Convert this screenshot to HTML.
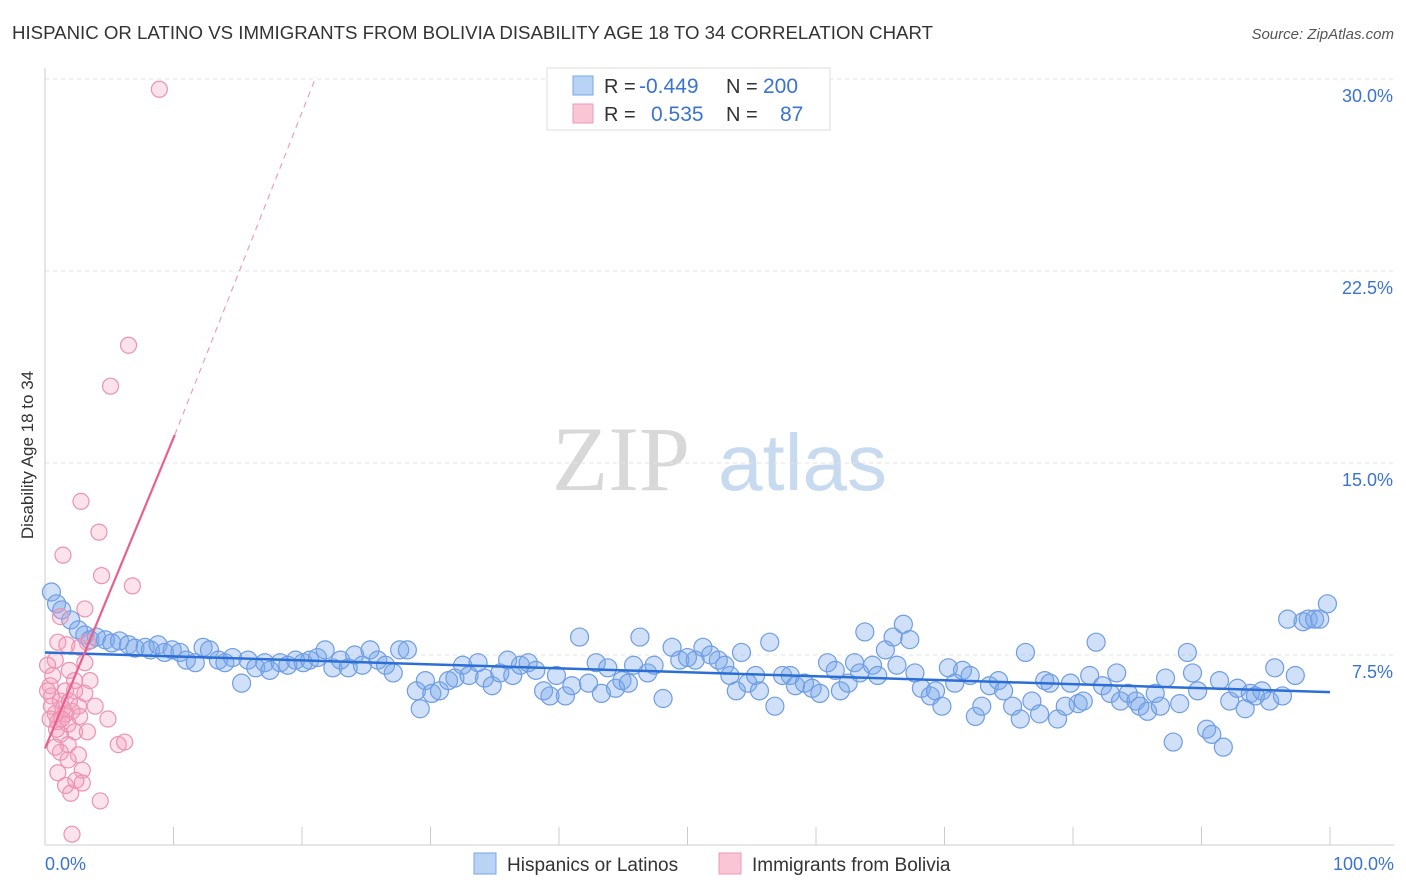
<!DOCTYPE html>
<html><head><meta charset="utf-8"><style>
body{margin:0;background:#fff;font-family:"Liberation Sans",sans-serif;}
#wrap{position:relative;width:1406px;height:892px;overflow:hidden;}
</style></head><body>
<div id="wrap">
<svg id="svg" width="1406" height="892" xmlns="http://www.w3.org/2000/svg">
<text x="12" y="39" font-size="18" fill="#333" textLength="921" lengthAdjust="spacingAndGlyphs">HISPANIC OR LATINO VS IMMIGRANTS FROM BOLIVIA DISABILITY AGE 18 TO 34 CORRELATION CHART</text>
<text x="1394" y="39" font-size="15" fill="#555" font-style="italic" text-anchor="end">Source: ZipAtlas.com</text>
<text x="33" y="455" font-size="17" fill="#333" text-anchor="middle" transform="rotate(-90 33 455)">Disability Age 18 to 34</text>
<g><text x="690" y="490" font-size="92" fill="#d8d8d8" text-anchor="end" font-family="Liberation Serif,serif">ZIP</text><text x="718" y="490" font-size="80" fill="#c8daf0">atlas</text></g>
<g id="grid"></g><g id="pts"></g><g id="trend"></g>
<g>
<rect x="547" y="68" width="283" height="62" fill="#fff" stroke="#ddd"/>
<rect x="573" y="76" width="20" height="19" fill="#b9d3f5" stroke="#7aa6e6"/>
<rect x="573" y="104" width="20" height="19" fill="#f9c6d6" stroke="#ec9ab5"/>
<text x="604" y="93" font-size="20" fill="#333">R = </text><text x="639" y="93" font-size="21" fill="#3a73d0">-0.449</text>
<text x="726" y="93" font-size="20" fill="#333">N =</text><text x="763" y="93" font-size="21" fill="#3a73d0">200</text>
<text x="604" y="121" font-size="20" fill="#333">R = </text><text x="651" y="121" font-size="21" fill="#3a73d0">0.535</text>
<text x="726" y="121" font-size="20" fill="#333">N =</text><text x="780" y="121" font-size="21" fill="#3a73d0">87</text>
</g>
<g>
<rect x="474" y="853" width="22" height="21" fill="#b9d3f5" stroke="#7aa6e6"/>
<text x="507" y="871" font-size="19" fill="#333">Hispanics or Latinos</text>
<rect x="719" y="853" width="22" height="21" fill="#f9c6d6" stroke="#ec9ab5"/>
<text x="752" y="871" font-size="19" fill="#333">Immigrants from Bolivia</text>
</g>
<text x="45" y="870" font-size="18" fill="#3a73d0">0.0%</text>
<text x="1394" y="870" font-size="18" fill="#3a73d0" text-anchor="end">100.0%</text>
</svg>
</div>
<script>
const yTicks=[7.5,15,22.5,30];
const yTickLabels=["7.5%","15.0%","22.5%","30.0%"];
const blueX=[0.5,0.9,1.3,2.0,2.6,3.1,3.5,4.0,4.7,5.2,5.8,6.5,7.0,7.8,8.2,8.8,9.3,9.9,10.5,11,11.7,12.3,12.8,13.5,14,14.6,15.3,15.8,16.4,17.1,17.5,18.3,18.9,19.5,20.1,20.6,21.2,21.8,22.4,23,23.6,24.1,24.7,25.3,25.9,26.5,27.1,27.6,28.2,28.9,29.2,29.6,30.1,30.7,31.4,31.9,32.5,33,33.7,34.2,34.8,35.4,36,36.4,37,37.6,38.2,38.8,39.3,39.8,40.5,41,41.6,42.3,42.9,43.3,43.8,44.4,44.9,45.4,45.8,46.3,46.9,47.4,48.1,48.8,49.4,50,50.6,51.2,51.8,52.4,52.9,53.3,53.8,54.2,54.7,55.3,55.6,56.4,56.8,57.4,58,58.4,59.1,59.7,60.3,60.9,61.5,61.9,62.5,63,63.4,63.8,64.4,64.8,65.4,66,66.3,66.8,67.3,67.7,68.2,68.9,69.3,69.8,70.3,70.8,71.4,72,72.4,72.9,73.5,74.2,74.6,75.3,75.9,76.3,76.8,77.4,77.8,78.2,78.8,79.4,79.8,80.4,80.8,81.3,81.8,82.3,82.9,83.4,83.7,84.3,84.9,85.2,85.8,86.4,86.8,87.2,87.8,88.3,88.9,89.3,89.7,90.4,90.8,91.4,91.7,92.2,92.8,93.4,93.8,94.2,94.7,95.3,95.7,96.3,96.7,97.3,97.9,98.3,98.8,99.2,99.8];
const blueY=[9.96,9.5,9.26,8.87,8.48,8.28,8.09,8.2,8.09,7.97,8.05,7.9,7.77,7.8,7.7,7.9,7.6,7.7,7.6,7.3,7.2,7.8,7.7,7.3,7.2,7.4,6.4,7.3,7.0,7.2,6.9,7.2,7.1,7.3,7.2,7.3,7.4,7.7,7.0,7.3,7.0,7.5,7.1,7.7,7.3,7.1,6.8,7.7,7.7,6.1,5.4,6.5,6.0,6.1,6.5,6.6,7.1,6.7,7.2,6.6,6.3,6.8,7.3,6.7,7.1,7.2,6.9,6.1,5.9,6.7,5.9,6.3,8.2,6.4,7.2,6.0,7.0,6.2,6.5,6.4,7.1,8.2,6.8,7.1,5.8,7.8,7.3,7.4,7.3,7.8,7.5,7.3,7.1,6.7,6.1,7.6,6.4,6.7,6.1,8.0,5.5,6.7,6.7,6.3,6.4,6.2,6.0,7.2,6.9,6.1,6.4,7.2,6.8,8.4,7.1,6.7,7.7,8.2,7.1,8.7,8.1,6.8,6.2,5.9,6.1,5.5,7.0,6.4,6.9,6.7,5.1,5.5,6.3,6.5,6.1,5.5,5.0,7.6,5.7,5.2,6.5,6.4,5.0,5.5,6.4,5.6,5.7,6.7,8.0,6.3,6.0,6.8,5.7,6.0,5.7,5.5,5.3,6.0,5.5,6.6,4.1,5.6,7.6,6.8,6.1,4.6,4.4,6.5,3.9,5.7,6.2,5.4,6.0,5.9,6.1,5.7,7.0,5.9,8.9,6.7,8.8,8.9,8.9,8.9,9.5];
const pinkX=[8.9,6.5,5.1,2.8,1.4,4.2,4.4,6.8,3.1,1.2,1.0,1.7,3.3,2.7,0.8,1.9,3.1,2.3,0.4,0.5,1.2,1.6,3.1,2.6,3.9,0.8,1.6,2.1,1.0,1.8,4.9,1.2,2.3,3.3,1.8,1.2,2.6,5.7,6.2,1.0,2.9,1.6,2.9,2.0,4.3,2.1,0.2,0.5,0.4,1.4,0.9,1.9,3.5,0.2,0.6,1.3,2.3,2.7,0.8,1.8,2.4];
const pinkY=[29.6,19.6,18.0,13.5,11.4,12.3,10.6,10.2,9.3,9.0,8.0,7.9,8.0,7.8,7.3,6.9,7.2,6.5,6.3,5.9,5.7,6.1,6.0,5.5,5.5,5.2,5.2,5.3,4.9,4.8,5.0,4.4,4.5,4.5,4.0,3.7,3.6,4.0,4.1,2.9,3.0,2.4,2.5,2.1,1.8,0.5,6.1,5.5,5.0,5.4,4.6,5.7,6.5,7.1,6.7,5.0,6.1,5.1,3.9,3.4,2.6];
const blueTrend=[[0,7.6],[100,6.05]];
const pinkTrend=[[0,3.85],[10.1,16.1],[21.1,30.1]];
const X0=45,X1=1330,Y0=847,PPU=25.6;
const sx=v=>X0+(X1-X0)*v/100, sy=v=>Y0-v*PPU;
const NS="http://www.w3.org/2000/svg";
function mk(tag,attrs,parent){const e=document.createElementNS(NS,tag);for(const k in attrs)e.setAttribute(k,attrs[k]);parent.appendChild(e);return e;}
const grid=document.getElementById('grid');
yTicks.forEach((t,i)=>{
 const l=mk('line',{x1:X0,x2:1394,y1:sy(t),y2:sy(t),stroke:'#e3e3e3','stroke-dasharray':'4 4'},grid);
 
 
 const tx=mk('text',{x:1393,y:sy(t)+23,'font-size':18,fill:'#3a73d0','text-anchor':'end'},grid);
 tx.textContent=yTickLabels[i];
 
 
});
const ax=mk('line',{x1:X0,x2:1394,y1:845,y2:845,stroke:'#ccc'},grid);


const ay=mk('line',{x1:X0,x2:X0,y1:68,y2:845,stroke:'#ccc'},grid);


for(let i=0;i<=10;i++){const t=mk('line',{x1:sx(i*10),x2:sx(i*10),y1:827,y2:845,stroke:'#ccc'},grid);
 
 }
const pts=document.getElementById('pts');
blueX.forEach((x,i)=>{const c=mk('circle',{cx:sx(x),cy:sy(blueY[i]),r:9,fill:'rgba(120,165,235,0.35)',stroke:'#6f9de3','stroke-width':1.2},pts);
 
 });
pinkX.forEach((x,i)=>{const c=mk('circle',{cx:sx(x),cy:sy(pinkY[i]),r:8,fill:'rgba(245,160,190,0.3)',stroke:'#eb93b1','stroke-width':1.2},pts);
 
 });
const tr=document.getElementById('trend');
const bl=mk('line',{x1:sx(blueTrend[0][0]),y1:sy(blueTrend[0][1]),x2:sx(blueTrend[1][0]),y2:sy(blueTrend[1][1]),stroke:'#2b6fd6','stroke-width':2.5},tr);


const pl=mk('line',{x1:sx(pinkTrend[0][0]),y1:sy(pinkTrend[0][1]),x2:sx(pinkTrend[1][0]),y2:sy(pinkTrend[1][1]),stroke:'#e8608e','stroke-width':2.2},tr);


const pd=mk('line',{x1:sx(pinkTrend[1][0]),y1:sy(pinkTrend[1][1]),x2:sx(pinkTrend[2][0]),y2:sy(pinkTrend[2][1]),stroke:'#eba0b8','stroke-width':1.2,'stroke-dasharray':'6 5'},tr);


</script>
</body></html>
